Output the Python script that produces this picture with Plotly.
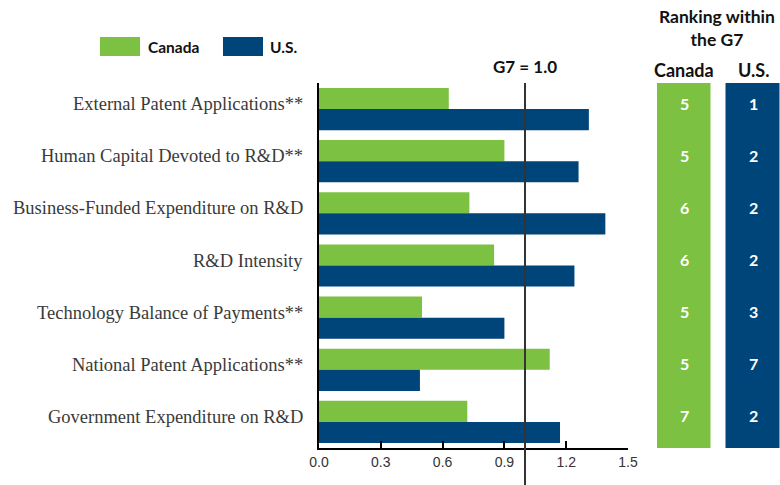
import plotly.graph_objects as go

categories = [
    "External Patent Applications**",
    "Human Capital Devoted to R&D**",
    "Business-Funded Expenditure on R&D",
    "R&D Intensity",
    "Technology Balance of Payments**",
    "National Patent Applications**",
    "Government Expenditure on R&D",
]
canada_values = [0.63, 0.90, 0.73, 0.85, 0.50, 1.12, 0.72]
us_values = [1.31, 1.26, 1.39, 1.24, 0.90, 0.49, 1.17]
canada_rank = [5, 5, 6, 6, 5, 5, 7]
us_rank = [1, 2, 2, 2, 3, 7, 2]
rank_columns = ["Canada", "U.S."]
x_ticks = [0.0, 0.3, 0.6, 0.9, 1.2, 1.5]

GREEN = "#7cc142"
BLUE = "#00457a"
W, H = 780, 485
BOLD = "Lato"
DARK = "#111111"


def px_x(p):
    return p / W


def px_y(p):
    return 1 - p / H


def bold(size, color=DARK):
    return dict(family=BOLD, size=size, color=color, weight="bold")


fig = go.Figure()
fig.add_trace(go.Bar(y=categories, x=canada_values, orientation="h", name="Canada",
                     marker=dict(color=GREEN, line=dict(width=0)), hoverinfo="x"))
fig.add_trace(go.Bar(y=categories, x=us_values, orientation="h", name="U.S.",
                     marker=dict(color=BLUE, line=dict(width=0)), hoverinfo="x"))

# ranking columns
z = [[0, 1] for _ in categories]
fig.add_trace(go.Heatmap(x=rank_columns, y=categories, z=z, xaxis="x2", yaxis="y",
                         colorscale=[[0, GREEN], [1, BLUE]], showscale=False,
                         xgap=15, ygap=0, hoverinfo="skip"))

annotations = []
for cat, cr, ur in zip(categories, canada_rank, us_rank):
    annotations.append(dict(xref="x2", yref="y", x="Canada", y=cat, text=str(cr), showarrow=False,
                            yanchor="middle", yshift=6, font=bold(16, "white")))
    annotations.append(dict(xref="x2", yref="y", x="U.S.", y=cat, text=str(ur), showarrow=False,
                            yanchor="middle", yshift=6, font=bold(16, "white")))
    annotations.append(dict(xref="paper", yref="y", x=px_x(305), y=cat, text=cat, showarrow=False,
                            xanchor="right", yanchor="middle", yshift=5,
                            font=dict(family="Liberation Serif", size=18.5, color="#3a3a3a")))

annotations += [
    dict(xref="paper", yref="paper", x=px_x(717), y=px_y(28), text="Ranking within<br>the G7",
         showarrow=False, xanchor="center", yanchor="middle", font=bold(17.5)),
    dict(xref="x2", yref="paper", x="Canada", y=px_y(70), text="Canada", showarrow=False,
         xanchor="center", yanchor="middle", font=bold(18)),
    dict(xref="x2", yref="paper", x="U.S.", y=px_y(70), text="U.S.", showarrow=False,
         xanchor="center", yanchor="middle", font=bold(18)),
    dict(xref="x", yref="paper", x=1.0, y=px_y(67), text="G7 = 1.0", showarrow=False,
         xanchor="center", yanchor="middle", font=bold(17)),
    dict(xref="paper", yref="paper", x=px_x(146), y=px_y(47), text="Canada", showarrow=False,
         xanchor="left", yanchor="middle", font=bold(15.5)),
    dict(xref="paper", yref="paper", x=px_x(268), y=px_y(47), text="U.S.", showarrow=False,
         xanchor="left", yanchor="middle", font=bold(15.5)),
]

shapes = [
    dict(type="rect", xref="paper", yref="paper", x0=px_x(100), x1=px_x(140), y0=px_y(56), y1=px_y(37),
         fillcolor=GREEN, line=dict(width=0)),
    dict(type="rect", xref="paper", yref="paper", x0=px_x(223), x1=px_x(263), y0=px_y(56), y1=px_y(37),
         fillcolor=BLUE, line=dict(width=0)),
    dict(type="line", xref="x", yref="paper", x0=1.0, x1=1.0, y0=0, y1=px_y(83),
         line=dict(color="#333333", width=2)),
]

fig.update_layout(
    width=W, height=H,
    margin=dict(l=0, r=0, t=0, b=0),
    paper_bgcolor="white", plot_bgcolor="white",
    barmode="group", bargap=0.19, bargroupgap=0,
    showlegend=False,
    xaxis=dict(domain=[px_x(319), px_x(628)], range=[0, 1.5], tickvals=x_ticks,
               ticktext=[f"{v:.1f}" for v in x_ticks], showgrid=False, zeroline=False,
               showline=True, linecolor="black", linewidth=2, ticks="inside", ticklen=7,
               tickwidth=2, tickcolor="black", automargin=False,
               tickfont=dict(family="Liberation Sans", size=14, color="#333333")),
    yaxis=dict(domain=[px_y(448), px_y(83)], type="category", categoryorder="array",
               categoryarray=categories, range=[6.5, -0.5], showticklabels=False,
               showgrid=False, zeroline=False, showline=True, linecolor="black", linewidth=2,
               ticks="", automargin=False),
    xaxis2=dict(domain=[px_x(657), 1.0], anchor="y", range=[-0.3913, 1.3913], visible=False,
                type="category", categoryorder="array", categoryarray=rank_columns),
    annotations=annotations,
    shapes=shapes,
)

fig.write_html(
    "out.html",
    config={"displayModeBar": False},
    post_script="document.body.style.margin='0';document.body.style.padding='0';"
                "document.documentElement.style.overflow='hidden';",
)
